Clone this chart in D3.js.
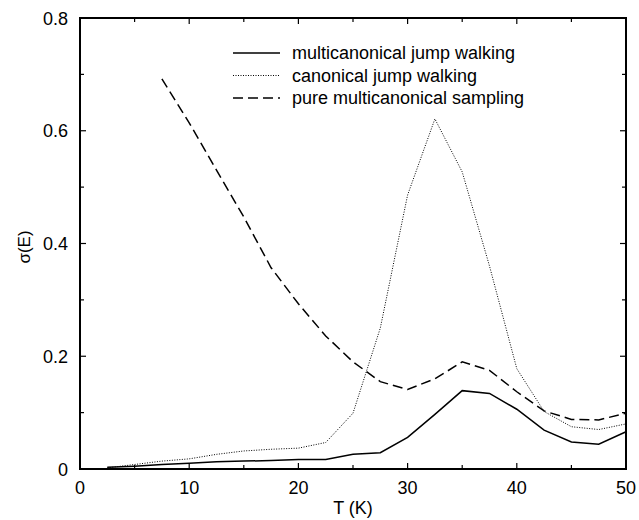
<!DOCTYPE html>
<html>
<head>
<meta charset="utf-8">
<script src="https://cdn.jsdelivr.net/npm/d3@7"></script>
<style>
  body { margin: 0; background: #fff; }
  text { font-family: "Liberation Sans", Arial, sans-serif; fill: #000; }
</style>
</head>
<body>
<div id="chart"></div>
<script>
// --- DATA ---
var temps = [2.5, 5, 7.5, 10, 12.5, 15, 17.5, 20, 22.5, 25, 27.5, 30, 32.5, 35, 37.5, 40, 42.5, 45, 47.5, 50];

var multiJump = [0.003, 0.005, 0.008, 0.010, 0.013, 0.014, 0.015, 0.017, 0.017, 0.026, 0.029, 0.056, 0.097, 0.139, 0.134, 0.106, 0.069, 0.048, 0.044, 0.066];
var canonJump = [0.002, 0.008, 0.014, 0.018, 0.026, 0.032, 0.035, 0.037, 0.047, 0.099, 0.25, 0.486, 0.621, 0.527, 0.36, 0.178, 0.102, 0.075, 0.070, 0.080];
var pureTemps = [7.5, 10, 12.5, 15, 17.5, 20, 22.5, 25, 27.5, 30, 32.5, 35, 37.5, 40, 42.5, 45, 47.5, 50];
var pureMulti = [0.692, 0.614, 0.53, 0.447, 0.357, 0.293, 0.236, 0.19, 0.155, 0.141, 0.16, 0.19, 0.175, 0.137, 0.103, 0.088, 0.087, 0.099];

var xTickLabels = [0, 10, 20, 30, 40, 50];
var yTickLabels = [0, 0.2, 0.4, 0.6, 0.8];

var legendItems = [
  { label: "multicanonical jump walking", dash: null, width: 1.5 },
  { label: "canonical jump walking", dash: "1,1.5", width: 1 },
  { label: "pure multicanonical sampling", dash: "10,5", width: 1.5 }
];

// --- SETUP ---
var width = 639, height = 520;
var plotLeft = 80, plotRight = 626, plotTop = 18, plotBottom = 469;

var svg = d3.select("#chart").append("svg")
  .attr("width", width)
  .attr("height", height);

var x = d3.scaleLinear().domain([0, 50]).range([plotLeft, plotRight]);
var y = d3.scaleLinear().domain([0, 0.8]).range([plotBottom, plotTop]);

// --- TICKS (inward, on all four sides) ---
var g = svg.append("g").attr("stroke", "#000").attr("stroke-width", 1.2);
d3.range(0, 51, 5).forEach(function(v) {
  var len = (v % 10 === 0) ? 6 : 4;
  g.append("line").attr("x1", x(v)).attr("x2", x(v)).attr("y1", plotBottom).attr("y2", plotBottom - len);
  g.append("line").attr("x1", x(v)).attr("x2", x(v)).attr("y1", plotTop).attr("y2", plotTop + len);
});
d3.range(0, 9).forEach(function(i) {
  var v = i / 10;
  var len = (i % 2 === 0) ? 6 : 4;
  g.append("line").attr("x1", plotLeft).attr("x2", plotLeft + len).attr("y1", y(v)).attr("y2", y(v));
  g.append("line").attr("x1", plotRight).attr("x2", plotRight - len).attr("y1", y(v)).attr("y2", y(v));
});

// frame
svg.append("rect")
  .attr("x", plotLeft).attr("y", plotTop)
  .attr("width", plotRight - plotLeft).attr("height", plotBottom - plotTop)
  .attr("fill", "none").attr("stroke", "#000").attr("stroke-width", 2);

// tick labels
svg.selectAll(".xlab").data(xTickLabels).enter().append("text")
  .attr("class", "xlab")
  .attr("x", d => x(d)).attr("y", plotBottom + 25)
  .attr("text-anchor", "middle")
  .attr("font-size", 18)
  .text(d => d);

svg.selectAll(".ylab").data(yTickLabels).enter().append("text")
  .attr("class", "ylab")
  .attr("x", plotLeft - 12).attr("y", d => y(d) + 6.5)
  .attr("text-anchor", "end")
  .attr("font-size", 18)
  .text(d => d === 0 ? "0" : d.toFixed(1));

// axis titles
svg.append("text")
  .attr("x", 353).attr("y", 514)
  .attr("text-anchor", "middle")
  .attr("font-size", 18)
  .text("T (K)");

svg.append("text")
  .attr("transform", "translate(30," + 247 + ") rotate(-90)")
  .attr("text-anchor", "middle")
  .attr("font-size", 17)
  .text("σ(E)");

// --- LINES ---
var line = d3.line().x(d => x(d[0])).y(d => y(d[1]));

svg.append("path")
  .datum(d3.zip(temps, multiJump))
  .attr("d", line)
  .attr("fill", "none").attr("stroke", "#000").attr("stroke-width", 1.5);

svg.append("path")
  .datum(d3.zip(temps, canonJump))
  .attr("d", line)
  .attr("fill", "none").attr("stroke", "#000").attr("stroke-width", 1)
  .attr("stroke-dasharray", "1,1.5");

svg.append("path")
  .datum(d3.zip(pureTemps, pureMulti))
  .attr("d", line)
  .attr("fill", "none").attr("stroke", "#000").attr("stroke-width", 1.5)
  .attr("stroke-dasharray", "10,5");

// --- LEGEND ---
var legend = svg.append("g");
legendItems.forEach(function(item, i) {
  var ly = 53 + i * 22.5;
  legend.append("line")
    .attr("x1", 233).attr("x2", 280).attr("y1", ly).attr("y2", ly)
    .attr("stroke", "#000").attr("stroke-width", item.width)
    .attr("stroke-dasharray", item.dash);
  legend.append("text")
    .attr("x", 292).attr("y", ly + 6)
    .attr("font-size", 18)
    .text(item.label);
});
</script>
</body>
</html>
